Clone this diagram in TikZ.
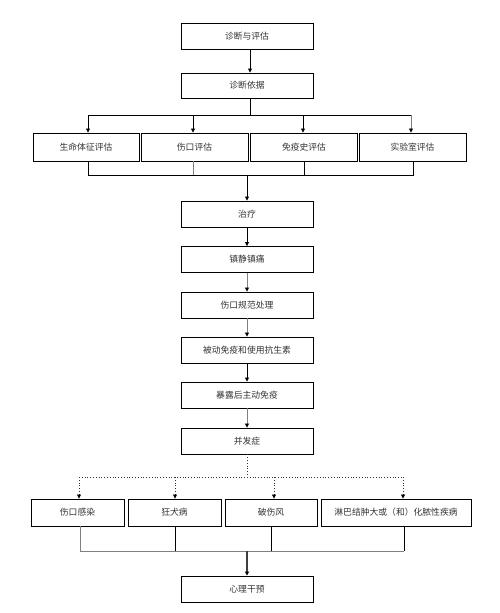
\documentclass[tikz,border=0pt]{standalone}
\usepackage{fontspec}
\newfontfamily\cjk{Noto Sans CJK SC}
\usetikzlibrary{arrows.meta,shadows}
\begin{document}
\begin{tikzpicture}[x=1pt,y=-1pt,
  box/.style={draw=black,line width=0.9pt,fill=white,inner sep=0pt,
    font=\cjk\fontsize{8.8}{10}\selectfont,text=black!80,
    drop shadow={shadow xshift=0.8pt,shadow yshift=-0.8pt,fill=gray!60,opacity=1}},
  conn/.style={line width=0.8pt,draw=black},
  gconn/.style={line width=0.8pt,draw=black!50},
  arr/.style={-{Triangle[length=4pt,width=4pt,color=black]}},
  dot/.style={line width=0.8pt,draw=black!80,dotted}]
\useasboundingbox (0,0) rectangle (500,613);
% main column
\node[box,minimum width=132pt,minimum height=26pt] (b1) at (247,36) {诊断与评估};
\node[box,minimum width=132pt,minimum height=25pt] (b2) at (247,85.5) {诊断依据};
\node[box,minimum width=106pt,minimum height=28pt] (a1) at (86,147) {生命体征评估};
\node[box,minimum width=107pt,minimum height=28pt] (a2) at (194.5,147) {伤口评估};
\node[box,minimum width=107pt,minimum height=28pt] (a3) at (304,147) {免疫史评估};
\node[box,minimum width=107pt,minimum height=28pt] (a4) at (412.5,147) {实验室评估};
\node[box,minimum width=132pt,minimum height=26pt] (t1) at (247,214) {治疗};
\node[box,minimum width=132pt,minimum height=26pt] (t2) at (247,259.5) {镇静镇痛};
\node[box,minimum width=132pt,minimum height=26pt] (t3) at (247,305) {伤口规范处理};
\node[box,minimum width=132pt,minimum height=26pt] (t4) at (247,350) {被动免疫和使用抗生素};
\node[box,minimum width=132pt,minimum height=26pt] (t5) at (247,395) {暴露后主动免疫};
\node[box,minimum width=132pt,minimum height=26pt] (c0) at (247,441) {并发症};
\node[box,minimum width=93pt,minimum height=27pt] (c1) at (77.5,512.5) {伤口感染};
\node[box,minimum width=93pt,minimum height=27pt] (c2) at (174.5,512.5) {狂犬病};
\node[box,minimum width=92pt,minimum height=27pt] (c3) at (271,512.5) {破伤风};
\node[box,minimum width=150pt,minimum height=27pt] (c4) at (396,512.5) {淋巴结肿大或（和）化脓性疾病};
\node[box,minimum width=132pt,minimum height=26pt] (p1) at (247,589) {心理干预};
% junction coordinates
\coordinate (j1) at (250,115);
\coordinate (j2) at (247,175);
\coordinate (j3) at (247,477);
\coordinate (j4) at (247,551);
% connectors
\draw[conn,arr] ([xshift=3pt]b1.south) -- ([xshift=3pt]b2.north);
\draw[conn] ([xshift=3pt]b2.south) -- (j1);
\draw[conn] ([xshift=2pt]a1.north |- j1) -- ([xshift=-1.5pt]a4.north |- j1);
\draw[conn,arr] ([xshift=2pt]a1.north |- j1) -- ([xshift=2pt]a1.north);
\draw[conn,arr] ([xshift=-1.5pt]a2.north |- j1) -- ([xshift=-1.5pt]a2.north);
\draw[conn,arr] ([xshift=-1pt]a3.north |- j1) -- ([xshift=-1pt]a3.north);
\draw[gconn,arr] ([xshift=-1.5pt]a4.north |- j1) -- ([xshift=-1.5pt]a4.north);
\draw[conn] ([xshift=2pt]a1.south) -- ([xshift=2pt]a1.south |- j2) -- ([xshift=0.5pt]a4.south |- j2) -- ([xshift=0.5pt]a4.south);
\draw[gconn] ([xshift=-1.5pt]a2.south) -- ([xshift=-1.5pt]a2.south |- j2);
\draw[conn] (a3.south) -- (a3.south |- j2);
\draw[conn,arr] (j2) -- (t1.north);
\draw[conn,arr] (t1) -- (t2);
\draw[gconn,arr] (t2) -- (t3);
\draw[gconn,arr] (t3) -- (t4);
\draw[conn,arr] (t4) -- (t5);
\draw[gconn,arr] (t5) -- (c0);
\draw[dot] (c0.south) -- (j3);
\draw[dot] ([xshift=1.5pt]c1.north |- j3) -- ([xshift=7pt]c4.north |- j3);
\draw[dot,arr] ([xshift=1.5pt]c1.north |- j3) -- ([xshift=1.5pt]c1.north);
\draw[dot,arr] ([xshift=0.5pt]c2.north |- j3) -- ([xshift=0.5pt]c2.north);
\draw[dot,arr] ([xshift=3pt]c3.north |- j3) -- ([xshift=3pt]c3.north);
\draw[dot,arr] ([xshift=7pt]c4.north |- j3) -- ([xshift=7pt]c4.north);
\draw[gconn] ([xshift=2.5pt]c1.south) -- ([xshift=2.5pt]c1.south |- j4) -- ([xshift=8pt]c4.south |- j4);
\draw[conn] ([xshift=0.5pt]c2.south) -- ([xshift=0.5pt]c2.south |- j4);
\draw[conn] (c3.south) -- (c3.south |- j4);
\draw[conn] ([xshift=8pt]c4.south) -- ([xshift=8pt]c4.south |- j4);
\draw[line width=1.1pt,draw=black!75,arr] (j4) -- (p1.north);
\end{tikzpicture}
\end{document}
